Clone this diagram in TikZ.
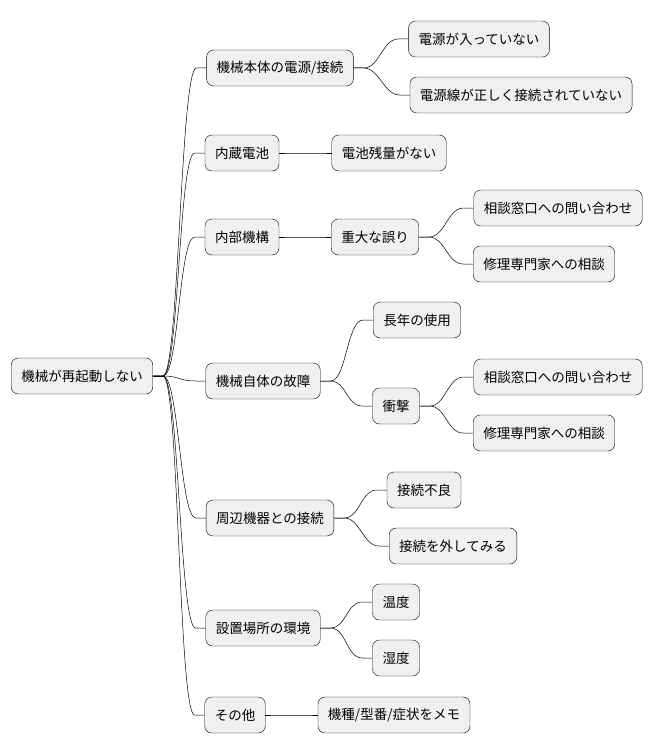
\documentclass[tikz,border=0pt]{standalone}
\usepackage{fontspec}
\setmainfont{Noto Sans CJK JP}
\usepackage{tikz}

\tikzset{
	idea/.style={shape=rectangle,rounded corners=7pt,draw=black,fill=black!6,
		minimum height=36pt,inner xsep=10pt,font=\fontsize{13.5}{16}\selectfont},
	branch/.style={draw=black,line width=0.5pt}
}
\newcommand{\conn}[2]{\draw[branch] (#1.east) -- ++(10,0) .. controls +(16,0) and +(-16,0) .. ([xshift=-10pt]#2.west) -- (#2.west);}

\begin{document}
\begin{tikzpicture}[x=1pt,y=-1pt]
	\useasboundingbox (0,0) rectangle (656,752);
	\node[idea] (root) at (82, 376)   {機械が再起動しない};

	\node[idea] (pw)   at (280, 68)   {機械本体の電源/接続};
	\node[idea] (bat)  at (242, 153)  {内蔵電池};
	\node[idea] (mech) at (242, 237)  {内部機構};
	\node[idea] (fail) at (263, 381)  {機械自体の故障};
	\node[idea] (peri) at (270, 518)  {周辺機器との接続};
	\node[idea] (env)  at (263, 628)  {設置場所の環境};
	\node[idea] (misc) at (235, 715)  {その他};

	\node[idea] (pwa)  at (479, 39)   {電源が入っていない};
	\node[idea] (pwb)  at (521, 95)   {電源線が正しく接続されていない};
	\node[idea] (bata) at (389, 153)  {電池残量がない};
	\node[idea] (err)  at (375, 237)  {重大な誤り};
	\node[idea] (erra) at (558, 208)  {相談窓口への問い合わせ};
	\node[idea] (errb) at (544, 264)  {修理専門家への相談};
	\node[idea] (age)  at (417, 320)  {長年の使用};
	\node[idea] (hit)  at (396, 406)  {衝撃};
	\node[idea] (hita) at (558, 377)  {相談窓口への問い合わせ};
	\node[idea] (hitb) at (544, 433)  {修理専門家への相談};
	\node[idea] (pera) at (424, 490)  {接続不良};
	\node[idea] (perb) at (453, 546)  {接続を外してみる};
	\node[idea] (tmp)  at (396, 602)  {温度};
	\node[idea] (hum)  at (396, 658)  {湿度};
	\node[idea] (memo) at (394, 715)  {機種/型番/症状をメモ};

	\foreach \c in {pw,bat,mech,fail,peri,env,misc} {\conn{root}{\c}}
	\conn{pw}{pwa} \conn{pw}{pwb}
	\conn{bat}{bata}
	\conn{mech}{err} \conn{err}{erra} \conn{err}{errb}
	\conn{fail}{age} \conn{fail}{hit} \conn{hit}{hita} \conn{hit}{hitb}
	\conn{peri}{pera} \conn{peri}{perb}
	\conn{env}{tmp} \conn{env}{hum}
	\conn{misc}{memo}
\end{tikzpicture}
\end{document}
